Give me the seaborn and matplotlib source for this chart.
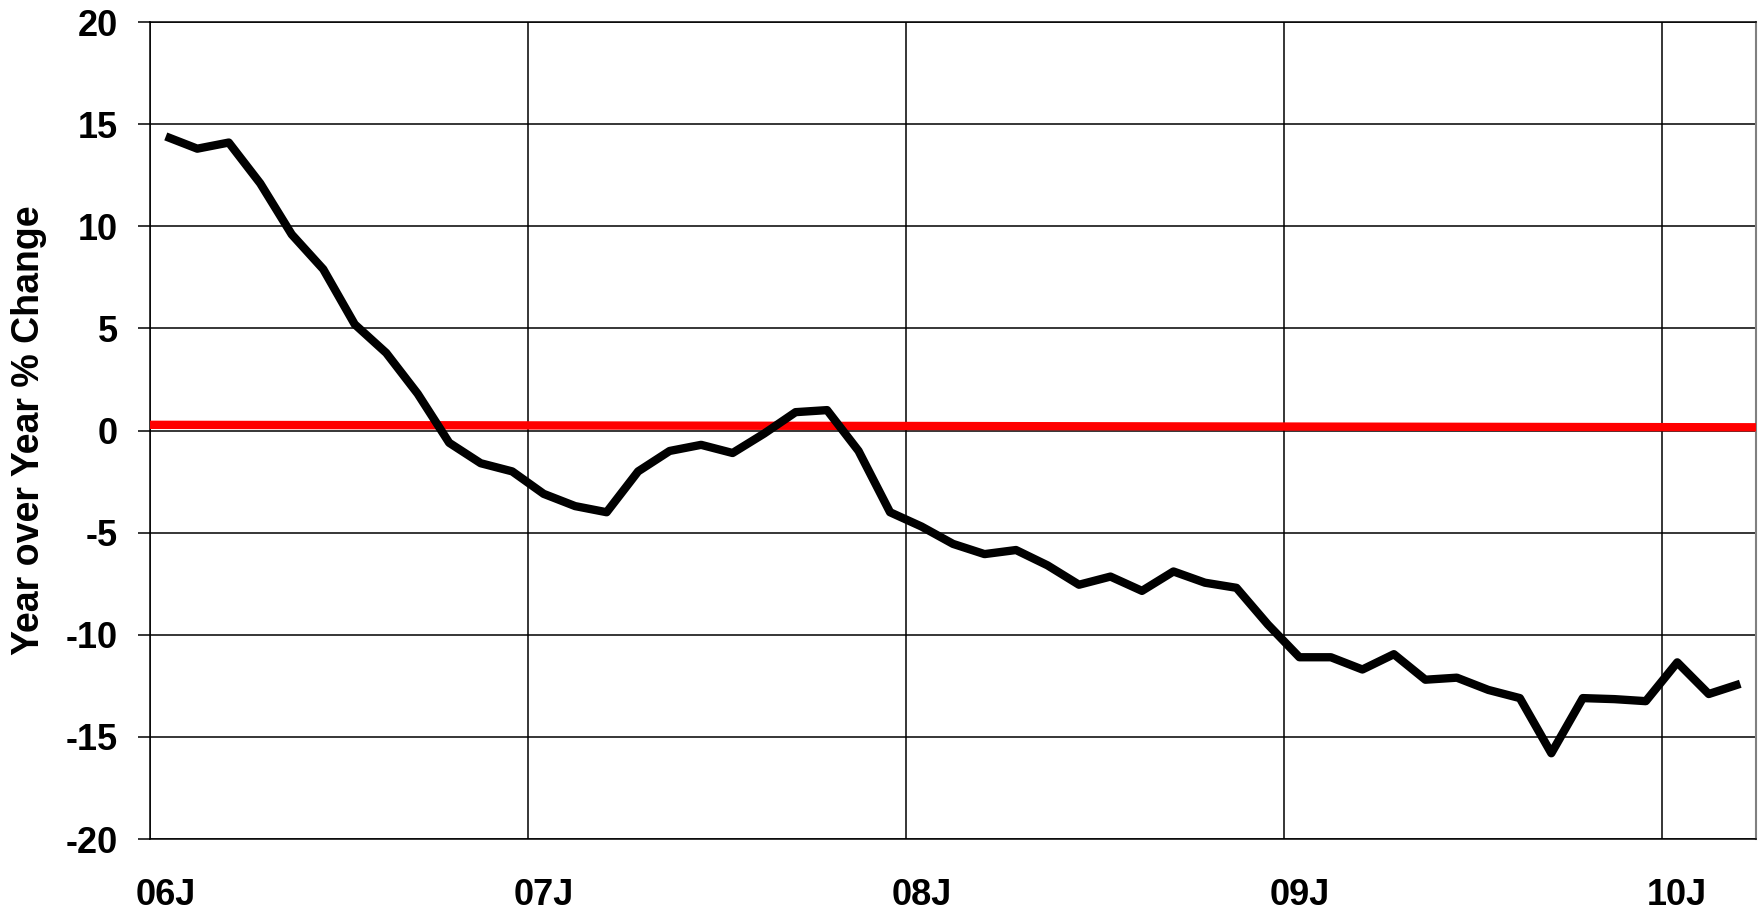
import numpy as np
import pandas as pd
import matplotlib
matplotlib.use("Agg")
import matplotlib.pyplot as plt
import seaborn as sns

# monthly year over year % change, Jan 2006 .. Mar 2010
yoy_change = [
    14.4, 13.8, 14.1, 12.1, 9.6, 7.9, 5.2, 3.8, 1.8, -0.6, -1.6, -2.0,
    -3.1, -3.7, -4.0, -2.0, -1.0, -0.7, -1.1, -0.15, 0.9, 1.0, -1.0, -4.0,
    -4.7, -5.55, -6.05, -5.85, -6.6, -7.55, -7.15, -7.85, -6.9, -7.45, -7.7, -9.5,
    -11.1, -11.1, -11.7, -10.95, -12.2, -12.1, -12.7, -13.1, -15.8, -13.1, -13.15, -13.25,
    -11.35, -12.9, -12.4,
]
year_labels = ["06J", "07J", "08J", "09J", "10J"]
ref_start, ref_end = 0.28, 0.16   # red reference line at the two axis edges

df = pd.DataFrame({"month": np.arange(len(yoy_change)) + 0.5, "yoy": yoy_change})
n_slots = len(yoy_change)

sns.set_style("white")
plt.rcParams["font.family"] = ["Liberation Sans", "DejaVu Sans"]
plt.rcParams["font.weight"] = "bold"
plt.rcParams["text.color"] = "black"
plt.rcParams["axes.labelcolor"] = "black"
plt.rcParams["xtick.color"] = "black"
plt.rcParams["ytick.color"] = "black"

fig = plt.figure(figsize=(17.59, 9.11), dpi=100)
ax = fig.add_axes([0.0853, 0.079, 0.9130, 0.8968])

sns.lineplot(data=df, x="month", y="yoy", ax=ax, color="black", linewidth=6,
             solid_joinstyle="round", solid_capstyle="butt", zorder=4)
sns.lineplot(x=[0, n_slots], y=[ref_start, ref_end], ax=ax, color="#ff0000",
             linewidth=6, solid_capstyle="butt", zorder=3)

ax.set_xlim(0, n_slots)
ax.set_ylim(-20, 20)

ax.set_yticks(np.arange(-20, 21, 5))
ax.set_yticklabels([str(v) for v in range(-20, 21, 5)])
ax.set_xticks(np.arange(0, n_slots, 12))
ax.set_xticklabels([])
ax.set_xticks(np.arange(0, n_slots, 12) + 0.5, minor=True)
ax.set_xticklabels(year_labels, minor=True)

ax.grid(True, which="major", color="black", linewidth=1.1, zorder=0)
ax.set_axisbelow(True)

ax.tick_params(axis="y", which="major", direction="out", length=9, width=1.1,
               color="black", pad=14, labelsize=26, left=True)
ax.tick_params(axis="x", which="both", length=0, pad=28, labelsize=26)
for lab in ax.get_xticklabels(minor=True) + ax.get_yticklabels():
    lab.set_fontweight("bold")

for side in ["left", "bottom", "top"]:
    ax.spines[side].set_color("black")
    ax.spines[side].set_linewidth(1.1)
ax.spines["right"].set_color("#808080")
ax.spines["right"].set_linewidth(1.5)

ax.set_xlabel("")
ax.set_ylabel("Year over Year % Change", fontsize=27, fontweight="bold")
ax.yaxis.set_label_coords(-0.064, 0.5)

fig.savefig("out.png", dpi=100)
